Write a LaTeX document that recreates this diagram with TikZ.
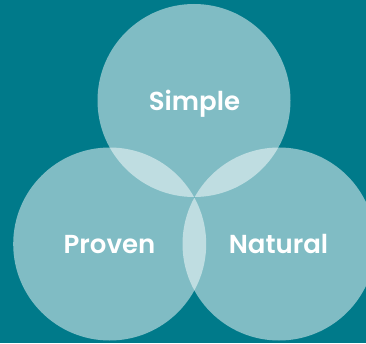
\documentclass[tikz,border=0pt]{standalone}
\usepackage{fontspec}
\setmainfont{Poppins}[UprightFont=* SemiBold]
\definecolor{bgteal}{RGB}{0,122,138}
\begin{document}
\begin{tikzpicture}[x=1pt,y=1pt,
  venn/.style={circle, minimum size=193pt, inner sep=0pt, fill=white, fill opacity=0.5},
  lbl/.style={anchor=base, text=white, font=\fontsize{26}{26}\selectfont, inner sep=0pt}]
\useasboundingbox (0,0) rectangle (366,343);
\fill[bgteal] (0,0) rectangle (366,343);
\clip (0,0) rectangle (366,343);
\node[venn] (simple) at (194,242.5) {};
\node[venn] (proven) at (109.7,99) {};
\node[venn] (natural) at (279,99) {};
\node[lbl] (tsimple) at (194.5,232) {Simple};
\node[lbl] (tproven) at (109.5,90) {Proven};
\node[lbl] (tnatural) at (278.5,90) {Natural};
\end{tikzpicture}
\end{document}
